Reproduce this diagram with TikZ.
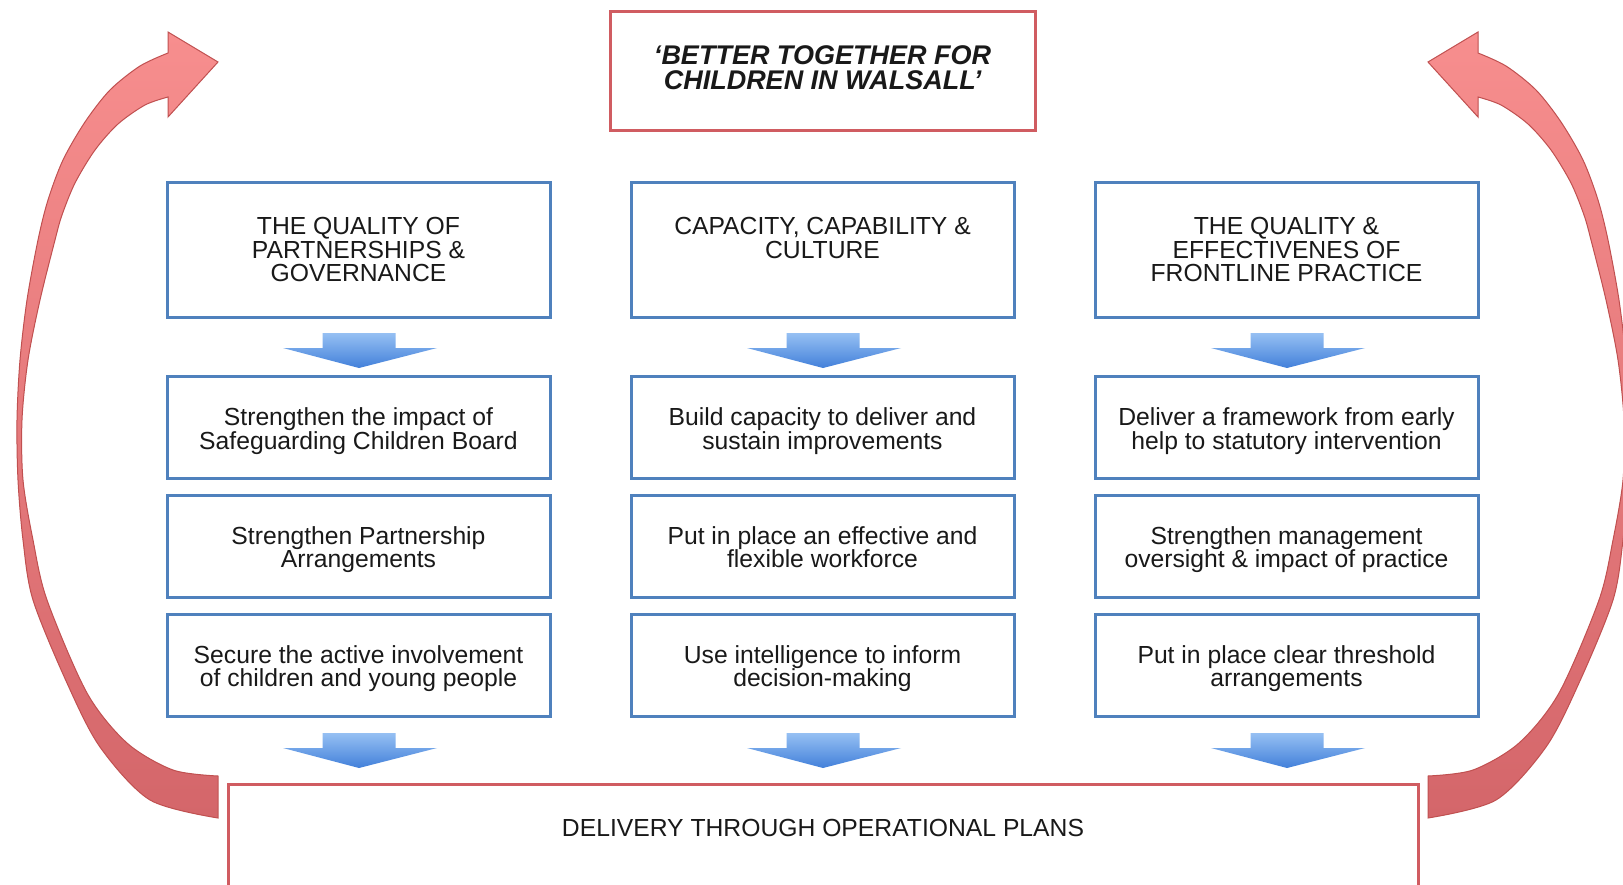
\documentclass[tikz,border=0pt]{standalone}
\usepackage{fontspec}
\setmainfont{Liberation Sans}
\definecolor{boxblue}{RGB}{79,129,189}
\definecolor{boxred}{RGB}{208,92,97}
\definecolor{txt}{RGB}{25,25,25}
\definecolor{arrA}{RGB}{150,192,243}
\definecolor{arrB}{RGB}{66,128,218}
\definecolor{redA}{RGB}{247,142,142}
\definecolor{redB}{RGB}{228,64,68}
\definecolor{redC}{RGB}{212,102,106}
\definecolor{redLine}{RGB}{192,80,80}
\newcommand\blarrow[2]{%
  \shade[top color=arrA, bottom color=arrB] (#1-36.5,#2) -- (#1+36.5,#2) -- (#1+36.5,#2+15)
    -- (#1+78,#2+15) -- (#1,#2+35) -- (#1-76,#2+15) -- (#1-36.5,#2+15) -- cycle;}
\newcommand\bigarrow{%
  \shadedraw[draw=redLine, line width=0.5pt, top color=redA, middle color=redB, bottom color=redC]
    (168,53) -- (168,32) -- (218,62) -- (168,117) -- (168,97)
    -- plot[smooth] coordinates {(168,97) (145,105) (118,124) (95,150) (75,183) (62,215) (55,240)
       (40,300) (28,360) (22,420) (23,480) (33,540) (47,600) (87,693) (127,743) (173,770) (218,776)}
    -- (218,818)
    -- plot[smooth] coordinates {(218,818) (150,800) (100,747) (67,683) (33,600) (23,540) (18,480)
       (17,420) (20,360) (27,300) (38,240) (48,200) (63,160) (85,122) (110,90) (140,66) (168,53)}
    -- cycle;}
\newcommand\topstrut{\rule{0pt}{13pt}}
\newcommand\botstrut{\rule[-3pt]{0pt}{3pt}}
\tikzset{
  bluebox/.style={draw=boxblue, line width=1.5pt, fill=white, minimum width=191.5pt,
    align=center, font=\fontsize{12.35pt}{11.7pt}\selectfont, text=txt, inner sep=0pt},
  headbox/.style={bluebox, minimum height=67.5pt},
  taskbox/.style={bluebox, minimum height=51pt},
  redbox/.style={draw=boxred, line width=1.5pt, fill=white, inner sep=0pt}
}
\begin{document}
\begin{tikzpicture}[x=0.5pt,y=-0.5pt]
\useasboundingbox (0,0) rectangle (1623,884);
\clip (0,0) rectangle (1623,884);
\fill[white] (0,0) rectangle (1623,884);

% big curved arrows
\bigarrow
\begin{scope}[shift={(1646,0)}, xscale=-1]
\bigarrow
\end{scope}

% title
\node[redbox, minimum width=212.5pt, minimum height=59.5pt, align=center, text=txt,
  font=\bfseries\itshape\fontsize{13.5pt}{12.4pt}\selectfont] (title) at (822.5,70.5)
  {‘BETTER TOGETHER FOR\\CHILDREN IN WALSALL’\rule[-3pt]{0pt}{3pt}};

% headers
\node[headbox] (h1) at (358.5,249.5) {THE QUALITY OF\\PARTNERSHIPS \&\\GOVERNANCE};
\node[headbox] (h2) at (822.5,249.5) {CAPACITY, CAPABILITY \&\\CULTURE\\\mbox{}};
\node[headbox] (h3) at (1286.5,249.5) {THE QUALITY \&\\EFFECTIVENES OF\\FRONTLINE PRACTICE};

% tasks
\node[taskbox] (a1) at (358.5,427.5) {\topstrut Strengthen the impact of\\Safeguarding Children Board\botstrut};
\node[taskbox] (a2) at (358.5,546) {\topstrut Strengthen Partnership\\Arrangements\botstrut};
\node[taskbox] (a3) at (358.5,665) {\topstrut Secure the active involvement\\of children and young people\botstrut};
\node[taskbox] (b1) at (822.5,427.5) {\topstrut Build capacity to deliver and\\sustain improvements\botstrut};
\node[taskbox] (b2) at (822.5,546) {\topstrut Put in place an effective and\\flexible workforce\botstrut};
\node[taskbox] (b3) at (822.5,665) {\topstrut Use intelligence to inform\\decision-making\botstrut};
\node[taskbox] (c1) at (1286.5,427.5) {\topstrut Deliver a framework from early\\help to statutory intervention\botstrut};
\node[taskbox] (c2) at (1286.5,546) {\topstrut Strengthen management\\oversight \& impact of practice\botstrut};
\node[taskbox] (c3) at (1286.5,665) {\topstrut Put in place clear threshold\\arrangements\botstrut};

% blue arrows
\blarrow{359}{333}
\blarrow{823}{333}
\blarrow{1287}{333}
\blarrow{359}{733}
\blarrow{823}{733}
\blarrow{1287}{733}

% bottom box
\node[redbox, minimum width=595pt, minimum height=80pt, anchor=north] (plans) at (823,783) {};
\node[font=\fontsize{12.35pt}{11.7pt}\selectfont, text=txt] (planstext) at (823,828)
  {DELIVERY THROUGH OPERATIONAL PLANS};
\end{tikzpicture}
\end{document}
